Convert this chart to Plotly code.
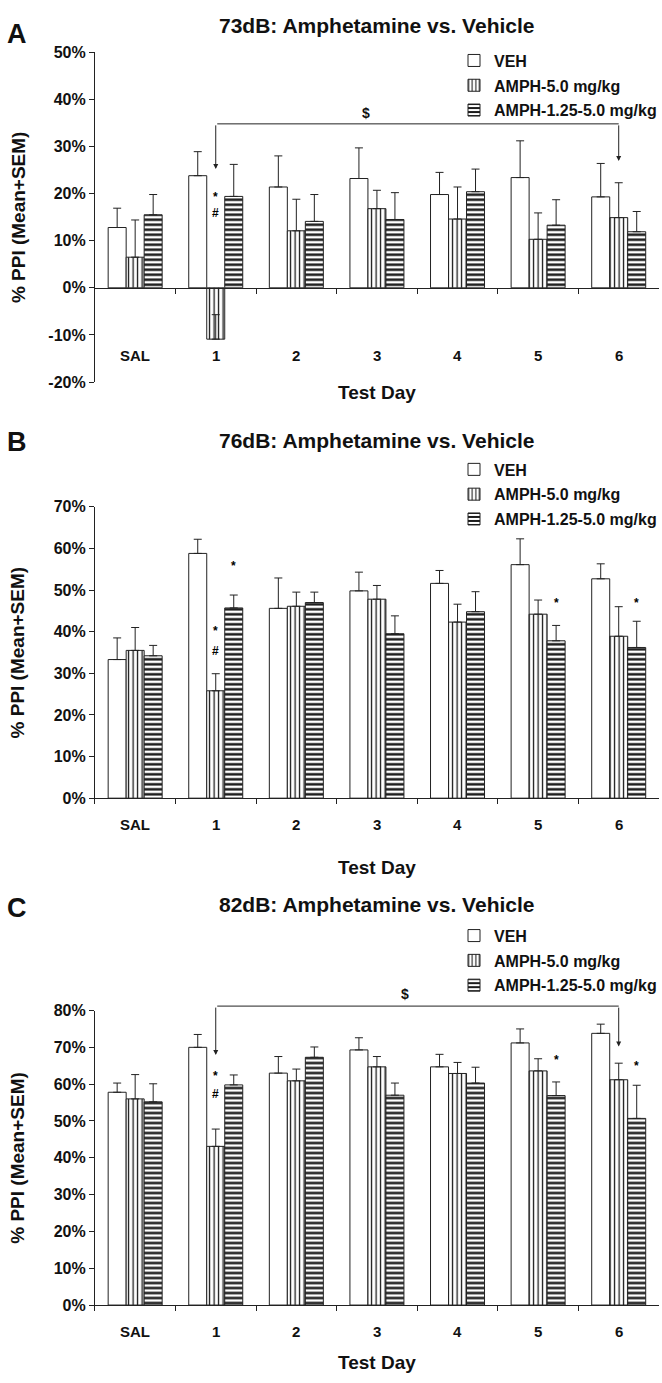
import plotly.graph_objects as go

# ---------------------------------------------------------------- data
CATEGORIES = ["SAL", "1", "2", "3", "4", "5", "6"]
SERIES = ["VEH", "AMPH-5.0 mg/kg", "AMPH-1.25-5.0 mg/kg"]

# 73 dB prepulse: % PPI means and SEM
VEH_73 = [12.8, 23.8, 21.4, 23.2, 19.8, 23.4, 19.3]
VEH_73_SEM = [4.1, 5.1, 6.6, 6.5, 4.7, 7.8, 7.1]
AMPH5_73 = [6.5, -10.9, 12.1, 16.8, 14.6, 10.3, 14.9]
AMPH5_73_SEM = [7.9, 5.2, 6.7, 3.9, 6.8, 5.6, 7.4]
AMPH125_73 = [15.5, 19.4, 14.1, 14.5, 20.4, 13.3, 11.9]
AMPH125_73_SEM = [4.3, 6.8, 5.7, 5.7, 4.8, 5.4, 4.3]

# 76 dB prepulse
VEH_76 = [33.3, 58.8, 45.6, 49.8, 51.6, 56.1, 52.7]
VEH_76_SEM = [5.2, 3.4, 7.3, 4.5, 3.1, 6.2, 3.6]
AMPH5_76 = [35.5, 25.8, 46.1, 47.8, 42.3, 44.2, 38.9]
AMPH5_76_SEM = [5.5, 4.1, 3.4, 3.3, 4.3, 3.4, 7.1]
AMPH125_76 = [34.2, 45.7, 47.0, 39.5, 44.8, 37.8, 36.2]
AMPH125_76_SEM = [2.5, 3.1, 2.5, 4.3, 4.8, 3.7, 6.3]

# 82 dB prepulse
VEH_82 = [57.8, 70.0, 63.0, 69.3, 64.7, 71.2, 73.8]
VEH_82_SEM = [2.5, 3.5, 4.5, 3.3, 3.4, 3.8, 2.5]
AMPH5_82 = [56.0, 43.1, 60.9, 64.7, 62.9, 63.6, 61.2]
AMPH5_82_SEM = [6.6, 4.7, 3.2, 2.8, 3.0, 3.3, 4.5]
AMPH125_82 = [55.2, 59.8, 67.3, 57.0, 60.3, 56.9, 50.7]
AMPH125_82_SEM = [4.9, 2.7, 2.8, 3.3, 4.3, 3.7, 9.0]

# y-axis tick values (%)
TICKS_73 = [-20, -10, 0, 10, 20, 30, 40, 50]
TICKS_76 = [0, 10, 20, 30, 40, 50, 60, 70]
TICKS_82 = [0, 10, 20, 30, 40, 50, 60, 70, 80]

# significance marks: (day, series index, y level, symbol)
MARKS_73 = [("1", 1, 17.6, "*<br>#")]
MARKS_76 = [("1", 1, 40.1, "*"), ("1", 1, 35.4, "#"), ("1", 2, 55.7, "*"),
            ("5", 2, 47.0, "*"), ("6", 2, 47.0, "*")]
MARKS_82 = [("1", 1, 62.1, "*"), ("1", 1, 57.2, "#"),
            ("5", 2, 66.6, "*"), ("6", 2, 64.8, "*")]

# day-1 vs day-6 comparison bracket: (from, to, level, tip_from, tip_to, $ x, $ y)
BRACKET_73 = ("1", "6", 34.8, 25.2, 26.9, 2.87, 37.0)
BRACKET_82 = ("1", "6", 81.2, 67.9, 70.2, 3.35, 84.5)

# ---------------------------------------------------------------- layout
W, H = 662, 1383
FONT = "Liberation Sans, Arial, Helvetica, sans-serif"
INK = "#111111"
LINE = "#222222"
BARGAP = 0.33
X_DOMAIN = [95 / W, 660 / W]


def py(px):
    """Pixel row (from top) -> paper fraction."""
    return 1 - px / H


panels = [
    dict(letter="A", title="73dB: Amphetamine vs. Vehicle",
         means=[VEH_73, AMPH5_73, AMPH125_73],
         sems=[VEH_73_SEM, AMPH5_73_SEM, AMPH125_73_SEM],
         ticks=TICKS_73, marks=MARKS_73, bracket=BRACKET_73,
         top=44.8, bottom=378.7, title_y=18, letter_y=26,
         legend_top=36, xtitle_y=389, cat_label_y=-14.3),
    dict(letter="B", title="76dB: Amphetamine vs. Vehicle",
         means=[VEH_76, AMPH5_76, AMPH125_76],
         sems=[VEH_76_SEM, AMPH5_76_SEM, AMPH125_76_SEM],
         ticks=TICKS_76, marks=MARKS_76, bracket=None,
         top=505.0, bottom=800.0, title_y=438, letter_y=439,
         legend_top=450, xtitle_y=870, cat_label_y=None),
    dict(letter="C", title="82dB: Amphetamine vs. Vehicle",
         means=[VEH_82, AMPH5_82, AMPH125_82],
         sems=[VEH_82_SEM, AMPH5_82_SEM, AMPH125_82_SEM],
         ticks=TICKS_82, marks=MARKS_82, bracket=BRACKET_82,
         top=1015.0, bottom=1313.2, title_y=908, letter_y=911,
         legend_top=922, xtitle_y=1371, cat_label_y=None),
]

patterns = [
    dict(shape=""),
    dict(shape="|", size=4.5, solidity=0.28, fgcolor=INK, bgcolor="white",
         fillmode="replace"),
    dict(shape="-", size=5, solidity=0.48, fgcolor=INK, bgcolor="white",
         fillmode="replace"),
]

fig = go.Figure()
annotations = []
layout = dict(
    width=W, height=H, margin=dict(l=0, r=0, t=0, b=0),
    paper_bgcolor="white", plot_bgcolor="white",
    barmode="group", bargap=BARGAP, bargroupgap=0,
    font=dict(family=FONT, size=15, color=INK, weight="bold"),
    showlegend=True,
)

bar_w = (1 - BARGAP) / len(SERIES)
centered = dict(xanchor="center", yanchor="middle", showarrow=False)
mark_font = dict(family="Liberation Sans", size=12, weight="bold",
                 color="#000000")

for k, p in enumerate(panels):
    sfx = "" if k == 0 else str(k + 1)
    xa, ya = "x" + sfx, "y" + sfx
    leg = "legend" + sfx
    lo, hi = p["ticks"][0], p["ticks"][-1]
    dom = [py(p["bottom"]), py(p["top"])]

    for s, name in enumerate(SERIES):
        fig.add_trace(go.Bar(
            x=CATEGORIES, y=p["means"][s], name=name,
            xaxis=xa, yaxis=ya, legend=leg, legendgroup=f"{k}-{s}",
            marker=dict(color="white", line=dict(color=LINE, width=1),
                        pattern=patterns[s]),
            error_y=dict(type="data", symmetric=False, array=p["sems"][s],
                         arrayminus=[0] * len(CATEGORIES),
                         color=LINE, thickness=1, width=4),
        ))

    # x axis sits on the 0% line
    xaxis = dict(domain=X_DOMAIN, range=[-0.5, len(CATEGORIES) - 0.5],
                 type="category", showline=True, linecolor=LINE, linewidth=1,
                 ticks="outside", tickson="boundaries", ticklen=5,
                 tickcolor=LINE, showticklabels=False, showgrid=False,
                 zeroline=False, fixedrange=True)
    if lo < 0:
        xaxis.update(anchor="free",
                     position=dom[0] + (dom[1] - dom[0]) * (0 - lo) / (hi - lo))
    else:
        xaxis.update(anchor=ya)
    yaxis = dict(domain=dom, range=[lo, hi], anchor=xa,
                 tickvals=p["ticks"], ticktext=[f"{v}%" for v in p["ticks"]],
                 showline=True, linecolor=LINE, linewidth=1, ticks="outside",
                 ticklen=5, tickcolor=LINE, showgrid=False, zeroline=False,
                 tickfont=dict(size=16, weight="bold", color=INK),
                 fixedrange=True)
    layout["xaxis" + sfx] = xaxis
    layout["yaxis" + sfx] = yaxis

    layout[leg] = dict(x=455 / W, xanchor="left", y=py(p["legend_top"]),
                       yanchor="top", bgcolor="rgba(0,0,0,0)",
                       font=dict(size=16, weight="bold", color=INK),
                       tracegroupgap=1, itemclick=False)

    # category labels
    for i, c in enumerate(CATEGORIES):
        if p["cat_label_y"] is not None:
            annotations.append(dict(x=i, y=p["cat_label_y"], xref=xa, yref=ya,
                                    text=c, font=dict(size=15, weight="bold"),
                                    **centered))
        else:
            annotations.append(dict(x=i, y=0, xref=xa, yref=ya, text=c,
                                    yshift=-26,
                                    font=dict(size=15, weight="bold"),
                                    **centered))

    # panel title, letter, axis titles
    annotations.append(dict(x=377.5 / W, y=py(p["title_y"]), xref="paper",
                            yref="paper", text=p["title"],
                            font=dict(size=21, weight="bold"), **centered))
    annotations.append(dict(x=17 / W, y=py(p["letter_y"]), xref="paper",
                            yref="paper", text=p["letter"],
                            font=dict(size=27, weight="bold"), **centered))
    annotations.append(dict(x=18 / W, y=(dom[0] + dom[1]) / 2, xref="paper",
                            yref="paper", text="% PPI (Mean+SEM)",
                            textangle=-90,
                            font=dict(size=19, weight="bold"), **centered))
    annotations.append(dict(x=377.5 / W, y=py(p["xtitle_y"]), xref="paper",
                            yref="paper", text="Test Day",
                            font=dict(size=19, weight="bold"), **centered))

    # significance marks
    for day, s, yv, sym in p["marks"]:
        xi = CATEGORIES.index(day) + (s - 1) * bar_w
        annotations.append(dict(x=xi, y=yv, xref=xa, yref=ya, text=sym,
                                font=mark_font, **centered))

    # day-1 vs day-6 bracket (drawn in axis-domain units so it may rise
    # above the top of the value axis)
    if p["bracket"]:
        d0, d1, lvl, t0, t1, dx, dy = p["bracket"]
        i0, i1 = CATEGORIES.index(d0), CATEGORIES.index(d1)
        yd = ya + " domain"
        lvl_d = (lvl - lo) / (hi - lo)
        common = dict(xref=xa, axref=xa, text="", showarrow=True,
                      arrowcolor=LINE, arrowwidth=1, standoff=0,
                      startstandoff=0)
        annotations.append(dict(x=i1, y=lvl_d, ax=i0, ay=lvl_d, yref=yd,
                                ayref=yd, arrowhead=0, **common))
        annotations.append(dict(x=i0, y=(t0 - lo) / (hi - lo), ax=i0,
                                ay=lvl_d, yref=yd, ayref=yd, arrowhead=2,
                                arrowsize=1, **common))
        annotations.append(dict(x=i1, y=(t1 - lo) / (hi - lo), ax=i1,
                                ay=lvl_d, yref=yd, ayref=yd, arrowhead=2,
                                arrowsize=1, **common))
        annotations.append(dict(x=dx, y=(dy - lo) / (hi - lo), xref=xa,
                                yref=yd, text="$",
                                font=dict(size=14, weight="bold"), **centered))

layout["annotations"] = annotations
fig.update_layout(**layout)
fig.write_html("out.html")
